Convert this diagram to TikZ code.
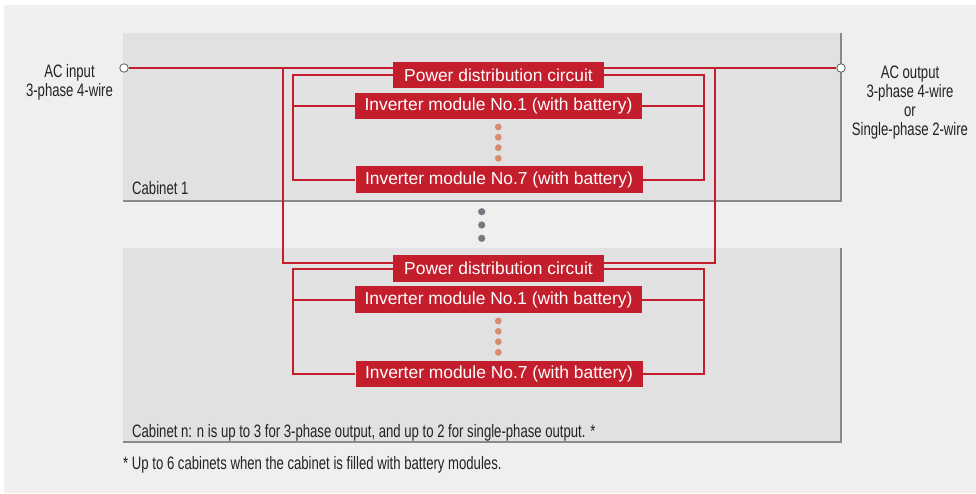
\documentclass[tikz,border=0pt]{standalone}
\usepackage{fontspec}
\setmainfont{Liberation Sans}
\newfontfamily\condfont[FakeStretch=0.73]{Liberation Sans}
\usetikzlibrary{positioning}
\definecolor{boxred}{RGB}{196,30,45}
\definecolor{panelgray}{RGB}{239,239,239}
\definecolor{cabgray}{RGB}{225,225,225}
\definecolor{edgegray}{RGB}{138,138,138}
\definecolor{dotgray}{RGB}{120,120,128}
\definecolor{dotorange}{RGB}{214,140,112}
\definecolor{inkgray}{RGB}{34,34,34}
\pgfdeclarelayer{back}
\pgfsetlayers{back,main}

\begin{document}
\begin{tikzpicture}[x=1pt,y=-1pt,
 modbox/.style={fill=boxred,text=white,font=\fontsize{17.4}{17.4}\selectfont,inner sep=0pt,minimum height=26.6pt},
 wire/.style={draw=boxred,line width=2pt},
 port/.style={circle,draw=gray!70!black,fill=white,line width=0.8pt,minimum size=8.5pt,inner sep=0pt},
 sidetext/.style={font=\condfont\fontsize{18}{19}\selectfont,align=center,text=inkgray},
 cabtext/.style={font=\condfont\fontsize{18}{19}\selectfont,text=inkgray,inner sep=0pt}]
 \useasboundingbox (0,0) rectangle (976,493);

 \node[modbox,minimum width=211pt] (pdc1) at (498.5,75) {Power distribution circuit};
 \node[modbox,minimum width=287pt,below=4pt of pdc1] (inv1a) {Inverter module No.1 (with battery)};
 \node[modbox,minimum width=287pt] (inv7a) at (499,179.7) {Inverter module No.7 (with battery)};
 \node[modbox,minimum width=211pt] (pdc2) at (498.5,268.7) {Power distribution circuit};
 \node[modbox,minimum width=287pt,below=4pt of pdc2] (inv1b) {Inverter module No.1 (with battery)};
 \node[modbox,minimum width=287pt] (inv7b) at (499,374) {Inverter module No.7 (with battery)};

 \node[port] (acin) at (124,68) {};
 \node[port] (acout) at (841,68) {};
 \node[sidetext] (inlabel) at (69.5,82) {AC input\\3-phase 4-wire};
 \node[sidetext] (outlabel) at (910,102.5) {AC output\\3-phase 4-wire\\or\\Single-phase 2-wire};

 \node[cabtext,anchor=base west] (cab1) at (132,194) {Cabinet 1};
 \node[cabtext,anchor=base west] (cabn) at (132,437) {Cabinet n: n is up to 3 for 3-phase output, and up to 2 for single-phase output. *};
 \node[cabtext,anchor=base west] (note) at (123,469) {* Up to 6 cabinets when the cabinet is filled with battery modules.};

 \coordinate (tapL) at (283,68);
 \coordinate (tapR) at (715,68);
 \coordinate (busL) at (293,0);
 \coordinate (busR) at (704,0);

 \begin{pgfonlayer}{back}
 \fill[panelgray] (4,5) rectangle (976,493);
 \fill[cabgray] (123,33) rectangle (841,201);
 \fill[cabgray] (123,247.5) rectangle (841,442);
 \draw[edgegray,line width=2pt] (123,201) -- (841,201) -- (841,33);
 \draw[edgegray,line width=2pt] (123,442) -- (841,442) -- (841,247.5);

 \draw[wire] (acin) -- (acout);
 \draw[wire] (tapL) |- ([yshift=5.5pt]pdc2.west);
 \draw[wire] (tapR) |- ([yshift=5.5pt]pdc2.east);

 \draw[wire] (pdc1.west) -| (busL |- inv7a.west) -- (inv7a.west);
 \draw[wire] (inv1a.west) -- (inv1a.west -| busL);
 \draw[wire] (pdc1.east) -| (busR |- inv7a.east) -- (inv7a.east);
 \draw[wire] (inv1a.east) -- (inv1a.east -| busR);

 \draw[wire] (pdc2.west) -| (busL |- inv7b.west) -- (inv7b.west);
 \draw[wire] (inv1b.west) -- (inv1b.west -| busL);
 \draw[wire] (pdc2.east) -| (busR |- inv7b.east) -- (inv7b.east);
 \draw[wire] (inv1b.east) -- (inv1b.east -| busR);
 \end{pgfonlayer}

 \fill[dotorange] (498.3,127) circle (3.4pt);
 \fill[dotorange] (498.3,137.3) circle (3.4pt);
 \fill[dotorange] (498.3,147.7) circle (3.4pt);
 \fill[dotorange] (498.3,158.3) circle (3.4pt);
 \fill[dotorange] (498.3,321) circle (3.4pt);
 \fill[dotorange] (498.3,331.3) circle (3.4pt);
 \fill[dotorange] (498.3,341.7) circle (3.4pt);
 \fill[dotorange] (498.3,352.3) circle (3.4pt);
 \fill[dotgray] (481.7,211.7) circle (3.6pt);
 \fill[dotgray] (481.7,225) circle (3.6pt);
 \fill[dotgray] (481.7,238.3) circle (3.6pt);
\end{tikzpicture}
\end{document}
